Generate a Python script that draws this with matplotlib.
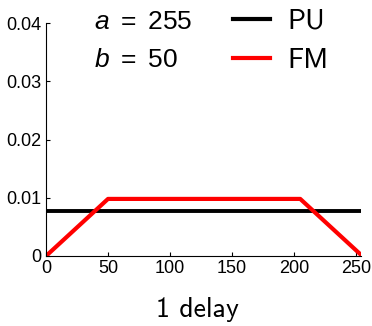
import matplotlib
matplotlib.use("Agg")
import matplotlib.pyplot as plt
from matplotlib.lines import Line2D

plt.rcParams['font.family'] = ['Liberation Sans', 'DejaVu Sans']
plt.rcParams['mathtext.fontset'] = 'custom'
plt.rcParams['mathtext.rm'] = 'Liberation Sans'
plt.rcParams['mathtext.it'] = 'Liberation Sans:italic'
plt.rcParams['axes.unicode_minus'] = False

# Data
pu_x = [0, 255]
pu_y = [0.0078, 0.0078]
fm_x = [0, 50, 100, 150, 205, 255]
fm_y = [0.0, 0.0098, 0.0098, 0.0098, 0.0098, 0.0]
xticks = [0, 50, 100, 150, 200, 250]
yticks = [0, 0.01, 0.02, 0.03, 0.04]
ytick_labels = ['0', '0.01', '0.02', '0.03', '0.04']
a_val, b_val = 255, 50

W, H = 372, 326
fig = plt.figure(figsize=(W/100, H/100), dpi=100)
ax = fig.add_axes([46/W, 1-256/H, (361-46)/W, (256-23)/H])

ax.plot(pu_x, pu_y, color='black', lw=2.8, solid_capstyle='butt')
ax.plot(fm_x, fm_y, color='#ff0000', lw=3.0, solid_capstyle='butt')

ax.set_xlim(0, 254)
ax.set_ylim(0, 0.04)
ax.set_xticks(xticks)
ax.set_xticklabels([str(t) for t in xticks])
ax.set_yticks(yticks)
ax.set_yticklabels(ytick_labels)
ax.tick_params(direction='in', length=3, width=0.8, labelsize=13, pad=3)
ax.spines['top'].set_visible(False)
ax.spines['right'].set_visible(False)
ax.set_xlabel('1 delay', fontsize=20, family='cmss10')
ax.xaxis.set_label_coords(0.48, -0.175)

fig.text(94/W, 1-29/H, r'$a$ $=$ %d' % a_val, fontsize=19, va='baseline', ha='left')
fig.text(94/W, 1-67/H, r'$b$ $=$ %d' % b_val, fontsize=19, va='baseline', ha='left')

handles = [Line2D([], [], color='black', lw=3),
           Line2D([], [], color='#ff0000', lw=3)]
leg = fig.legend(handles, ['PU', 'FM'], loc='upper left',
                 bbox_to_anchor=(230/W, 1-6/H), frameon=False,
                 prop={'family': 'cmss10', 'size': 20.5},
                 handlelength=1.3, handletextpad=0.6, labelspacing=0.5,
                 borderpad=0.1, borderaxespad=0)

fig.savefig('out.png', dpi=100)
